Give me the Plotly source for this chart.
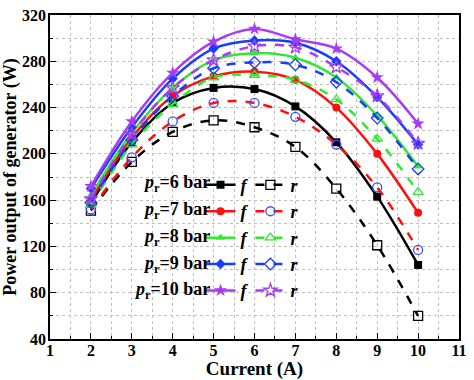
import plotly.graph_objects as go

current = [2, 3, 4, 5, 6, 7, 8, 9, 10]
pressures = [6, 7, 8, 9, 10]

f6 = [157, 210, 244, 257, 256, 241, 210, 163, 104]
r6 = [151, 193, 219, 229, 223, 206, 170, 121, 60]
f7 = [160, 214, 250, 267, 271, 264, 240, 200, 149]
r7 = [152, 197, 228, 244, 244, 232, 208, 171, 117]
f8 = [164, 218, 257, 281, 287, 283, 266, 233, 189]
r8 = [156, 208, 243, 266, 268, 264, 247, 213, 167]
f9 = [170, 223, 265, 291, 298, 296, 280, 249, 208]
r9 = [158, 212, 250, 274, 279, 277, 262, 231, 187]
f10 = [172, 228, 270, 297, 308, 299, 291, 266, 226]
r10 = [161, 217, 257, 281, 293, 292, 275, 250, 209]

f_series = [f6, f7, f8, f9, f10]
r_series = [r6, r7, r8, r9, r10]

line_colors = ["#000000", "#ff1010", "#33e833", "#1a3cff", "#a83cf0"]
r_marker_colors = ["#000000", "#3a4cff", "#33e833", "#1a3cff", "#a83cf0"]
f_symbols = ["square", "circle", "triangle-up", "diamond", "star"]
r_symbols = ["square-open", "circle-open", "triangle-up-open", "diamond-open", "star-open"]

FONT = "Liberation Serif"

fig = go.Figure()
for i, p in enumerate(pressures):
    fig.add_trace(go.Scatter(
        x=current, y=f_series[i], mode="lines+markers",
        line=dict(color=line_colors[i], width=2.5, shape="spline"),
        marker=dict(symbol=f_symbols[i], size=8 if f_symbols[i] != "star" else 10,
                    color=line_colors[i]),
        name="<i>f</i>", legend="legend", legendgroup="f%d" % p,
    ))
for i, p in enumerate(pressures):
    fig.add_trace(go.Scatter(
        x=current, y=r_series[i], mode="lines+markers",
        line=dict(color=line_colors[i], width=2.5, shape="spline", dash="dash"),
        marker=dict(symbol=r_symbols[i], size=9 if r_symbols[i] != "star-open" else 10,
                    color=r_marker_colors[i], line=dict(width=1.3, color=r_marker_colors[i])),
        name="<i>r</i>", legend="legend2", legendgroup="r%d" % p,
    ))

legend_common = dict(
    bgcolor="rgba(0,0,0,0)", borderwidth=0, orientation="v",
    font=dict(family=FONT, size=18, color="black", weight="bold"),
    tracegroupgap=5.5, itemwidth=30, yanchor="top", traceorder="normal",
)

annotations = []
for i, p in enumerate(pressures):
    annotations.append(dict(
        xref="paper", yref="paper", x=0.397, y=0.481 - i * 0.0832,
        xanchor="right", yanchor="middle", showarrow=False,
        text="<i>p</i><sub>r</sub>=%d bar" % p,
        font=dict(family=FONT, size=18, color="black", weight="bold"),
    ))

axis_common = dict(
    showline=True, linecolor="black", linewidth=1.8, mirror=True,
    ticks="inside", ticklen=6, tickwidth=1.3, tickcolor="black",
    showgrid=True, gridcolor="#c0c0c0", griddash="dot", gridwidth=1,
    zeroline=False,
    tickfont=dict(family=FONT, size=16, color="black", weight="bold"),
)

fig.update_layout(
    width=474, height=380,
    margin=dict(l=46, r=10, t=7, b=41),
    plot_bgcolor="white", paper_bgcolor="white",
    showlegend=True,
    legend=dict(x=0.368, y=0.532, **legend_common),
    legend2=dict(x=0.49, y=0.532, **legend_common),
    annotations=annotations,
    xaxis=dict(range=[1, 11], dtick=1, tick0=1, ticklabelstandoff=-4,
               minor=dict(dtick=0.5, ticks="inside", ticklen=3, tickcolor="black",
                          showgrid=True, gridcolor="#c0c0c0", griddash="dot"),
               title=dict(text="Current (A)", standoff=0,
                          font=dict(family=FONT, size=19, color="black", weight="bold")),
               **axis_common),
    yaxis=dict(range=[40, 320], dtick=40, tick0=40, ticklabelstandoff=-1,
               minor=dict(dtick=20, ticks="inside", ticklen=3, tickcolor="black",
                          showgrid=True, gridcolor="#c0c0c0", griddash="dot"),
               title=dict(text="Power output of generator (W)", standoff=2,
                          font=dict(family=FONT, size=18, color="black", weight="bold")),
               **axis_common),
)

fig.write_html("out.html", config={"displayModeBar": False},
               post_script="document.body.style.margin='0';")
